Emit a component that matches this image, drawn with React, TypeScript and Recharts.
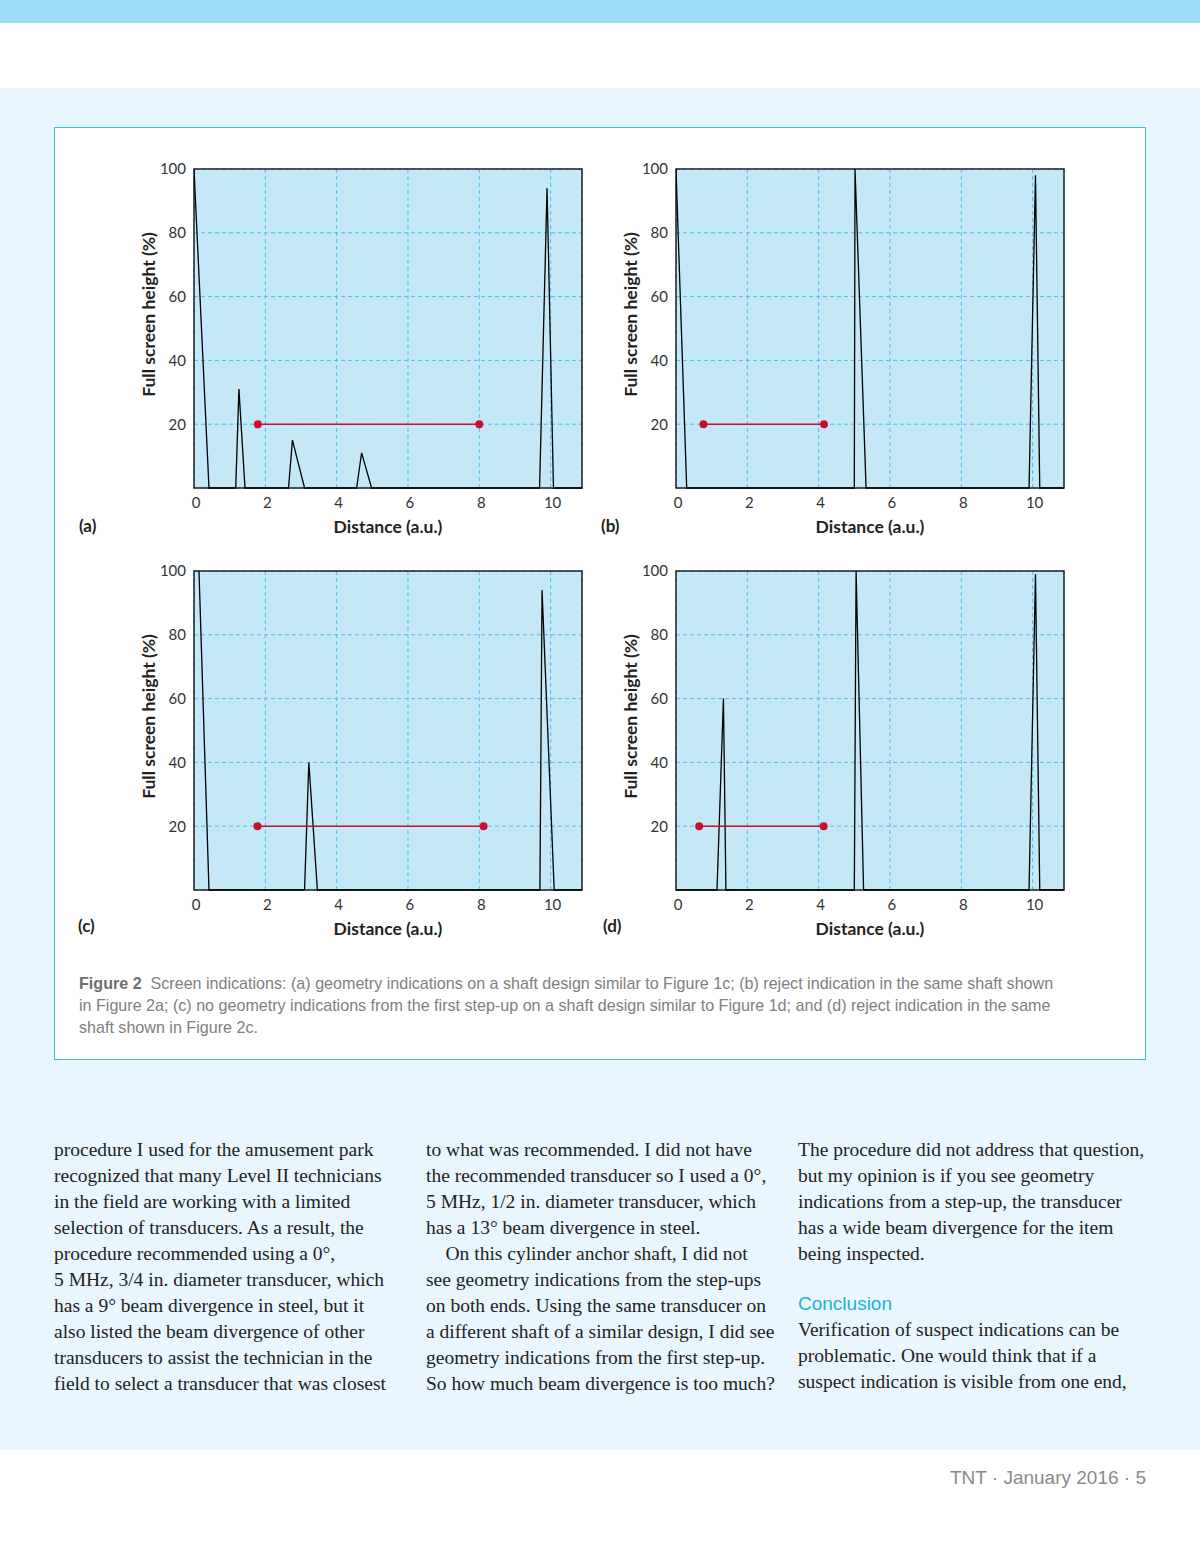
import React from 'react';
import { CartesianGrid, Line, LineChart, ReferenceArea, XAxis, YAxis } from 'recharts';

document.body.style.margin = '0';

// axis setup
const xTicks = [0, 2, 4, 6, 8, 10];
const yTicks = [20, 40, 60, 80, 100];
const X_MAX = 10.88;
const GATE_LEVEL = 20;

// (a) geometry indications
const distA = [0, 0.42, 1.17, 1.26, 1.43, 2.65, 2.76, 3.1, 4.56, 4.7, 4.98, 9.69, 9.9, 10.08, 10.88];
const heightA = [100, 0, 0, 31, 0, 0, 15, 0, 0, 11, 0, 0, 94, 0, 0];
const gateA = [1.79, 8.0];

// (b) reject indication
const distB = [0, 0.3, 5.0, 5.02, 5.33, 9.9, 10.08, 10.2, 10.88];
const heightB = [100, 0, 0, 100, 0, 0, 98, 0, 0];
const gateB = [0.77, 4.15];

// (c) no geometry indications
const distC = [0.14, 0.42, 3.1, 3.22, 3.46, 9.7, 9.76, 10.1, 10.88];
const heightC = [100, 0, 0, 40, 0, 0, 94, 0, 0];
const gateC = [1.78, 8.12];

// (d) reject indication
const distD = [0, 1.15, 1.33, 1.4, 5.0, 5.05, 5.26, 9.9, 10.08, 10.2, 10.88];
const heightD = [0, 0, 60, 0, 0, 100, 0, 0, 99, 0, 0];
const gateD = [0.65, 4.14];

const captionLines = [
   'Screen indications: (a) geometry indications on a shaft design similar to Figure 1c; (b) reject indication in the same shaft shown',
   'in Figure 2a; (c) no geometry indications from the first step-up on a shaft design similar to Figure 1d; and (d) reject indication in the same',
   'shaft shown in Figure 2c.',
];

const col1 = [
   'procedure I used for the amusement park',
   'recognized that many Level II technicians',
   'in the field are working with a limited',
   'selection of transducers. As a result, the',
   'procedure recommended using a 0°,',
   '5 MHz, 3/4 in. diameter transducer, which',
   'has a 9° beam divergence in steel, but it',
   'also listed the beam divergence of other',
   'transducers to assist the technician in the',
   'field to select a transducer that was closest',
];
const col2 = [
   'to what was recommended. I did not have',
   'the recommended transducer so I used a 0°,',
   '5 MHz, 1/2 in. diameter transducer, which',
   'has a 13° beam divergence in steel.',
   '\u00a0\u00a0\u00a0\u00a0On this cylinder anchor shaft, I did not',
   'see geometry indications from the step-ups',
   'on both ends. Using the same transducer on',
   'a different shaft of a similar design, I did see',
   'geometry indications from the first step-up.',
   'So how much beam divergence is too much?',
];
const col3a = [
   'The procedure did not address that question,',
   'but my opinion is if you see geometry',
   'indications from a step-up, the transducer',
   'has a wide beam divergence for the item',
   'being inspected.',
];
const col3b = [
   'Verification of suspect indications can be',
   'problematic. One would think that if a',
   'suspect indication is visible from one end,',
];

const SANS = 'Lato, "Open Sans", sans-serif';
const INK = '#231f20';

const XTitle = ({ viewBox }: any) => (
   <text x={viewBox.x + viewBox.width / 2} y={viewBox.y + 38} textAnchor="middle" dominantBaseline="central" fontFamily={SANS} fontWeight={700} fontSize={17.5} fill={INK}>
      Distance (a.u.)
   </text>
);

const YTitle = ({ viewBox }: any) => {
   const cx = viewBox.x + 18;
   const cy = viewBox.y + viewBox.height / 2 - 14;
   return (
      <text x={cx} y={cy} transform={`rotate(-90, ${cx}, ${cy})`} textAnchor="middle" dominantBaseline="central" fontFamily={SANS} fontWeight={700} fontSize={17.5} fill={INK}>
         Full screen height (%)
      </text>
   );
};

interface PanelProps {
   left: number;
   top: number;
   dist: number[];
   height: number[];
   gate: number[];
}

const Panel: React.FC<PanelProps> = ({ left, top, dist, height, gate }) => {
   const trace = dist.map((x, i) => ({ x, y: height[i] }));
   const gateData = gate.map((x) => ({ x, y: GATE_LEVEL }));
   return (
      <div style={{ position: 'absolute', left, top }}>
         <LineChart width={460} height={400} margin={{ top: 19, right: 8, left: 0, bottom: 0 }}>
            <CartesianGrid fill="#c5e8f8" stroke="#4cc1ea" strokeDasharray="4 3" fillOpacity={1} />
            <XAxis
               type="number"
               dataKey="x"
               domain={[0, X_MAX]}
               ticks={xTicks}
               allowDataOverflow
               axisLine={false}
               tickLine={false}
               tickSize={0}
               tickMargin={9}
               height={62}
               tick={{ fill: '#333', fontSize: 15, fontFamily: SANS, dx: 2 }}
               label={<XTitle />}
            />
            <YAxis
               type="number"
               domain={[0, 100]}
               ticks={yTicks}
               axisLine={false}
               tickLine={false}
               tickSize={0}
               tickMargin={8}
               width={64}
               tick={{ fill: '#333', fontSize: 15, fontFamily: SANS }}
               label={<YTitle />}
            />
            <ReferenceArea x1={0} x2={X_MAX} y1={0} y2={100} fill="none" fillOpacity={0} stroke={INK} strokeWidth={1.5} />
            <Line data={trace} dataKey="y" type="linear" stroke="#000" strokeWidth={1.3} dot={false} isAnimationActive={false} />
            <Line data={gateData} dataKey="y" type="linear" stroke="#c8102e" strokeWidth={1.5} dot={{ r: 4, fill: '#c8102e', stroke: '#c8102e', strokeWidth: 0 }} isAnimationActive={false} />
         </LineChart>
      </div>
   );
};

const tag = (text: string, left: number, top: number) => (
   <div style={{ position: 'absolute', left, top, fontFamily: SANS, fontWeight: 700, fontSize: 17, color: INK, lineHeight: '20px' }}>{text}</div>
);

const bodyStyle: React.CSSProperties = {
   position: 'absolute',
   fontFamily: '"Liberation Serif", serif',
   fontSize: 19.5,
   lineHeight: '26px',
   color: '#222',
   whiteSpace: 'nowrap',
};

export default function App() {
   return (
      <div style={{ position: 'relative', width: 1200, height: 1558, background: '#fff', overflow: 'hidden' }}>
         <div style={{ position: 'absolute', left: 0, top: 0, width: 1200, height: 23, background: '#9edcf8' }} />
         <div style={{ position: 'absolute', left: 0, top: 88, width: 1200, height: 1362, background: '#eaf6fd' }} />
         <div style={{ position: 'absolute', left: 54, top: 127, width: 1090, height: 931, background: '#fff', border: '1px solid #3cbfdc' }} />

         <Panel left={130} top={150} dist={distA} height={heightA} gate={gateA} />
         <Panel left={612} top={150} dist={distB} height={heightB} gate={gateB} />
         <Panel left={130} top={552} dist={distC} height={heightC} gate={gateC} />
         <Panel left={612} top={552} dist={distD} height={heightD} gate={gateD} />

         {tag('(a)', 79, 516)}
         {tag('(b)', 601, 516)}
         {tag('(c)', 78, 916)}
         {tag('(d)', 603, 916)}

         <div style={{ position: 'absolute', left: 79, top: 972, fontFamily: '"Liberation Sans", Arial, sans-serif', fontSize: 16.1, lineHeight: '22px', color: '#808080', whiteSpace: 'nowrap' }}>
            {captionLines.map((line, i) => (
               <div key={i}>
                  {i === 0 && <b style={{ color: '#6d6d6d' }}>Figure 2&nbsp;&nbsp;</b>}
                  {line}
               </div>
            ))}
         </div>

         <div style={{ ...bodyStyle, left: 54, top: 1137 }}>
            {col1.map((l, i) => (
               <div key={i}>{l}</div>
            ))}
         </div>
         <div style={{ ...bodyStyle, left: 426, top: 1137 }}>
            {col2.map((l, i) => (
               <div key={i}>{l}</div>
            ))}
         </div>
         <div style={{ ...bodyStyle, left: 798, top: 1137 }}>
            {col3a.map((l, i) => (
               <div key={i}>{l}</div>
            ))}
         </div>
         <div style={{ position: 'absolute', left: 798, top: 1291, fontFamily: '"Liberation Sans", Arial, sans-serif', fontSize: 19, lineHeight: '26px', color: '#1fb0e4' }}>Conclusion</div>
         <div style={{ ...bodyStyle, left: 798, top: 1317 }}>
            {col3b.map((l, i) => (
               <div key={i}>{l}</div>
            ))}
         </div>

         <div style={{ position: 'absolute', right: 54, top: 1466, fontFamily: '"Liberation Sans", Arial, sans-serif', fontSize: 19, lineHeight: '24px', color: '#8a8a8a' }}>
            TNT · January 2016 · 5
         </div>
      </div>
   );
}
